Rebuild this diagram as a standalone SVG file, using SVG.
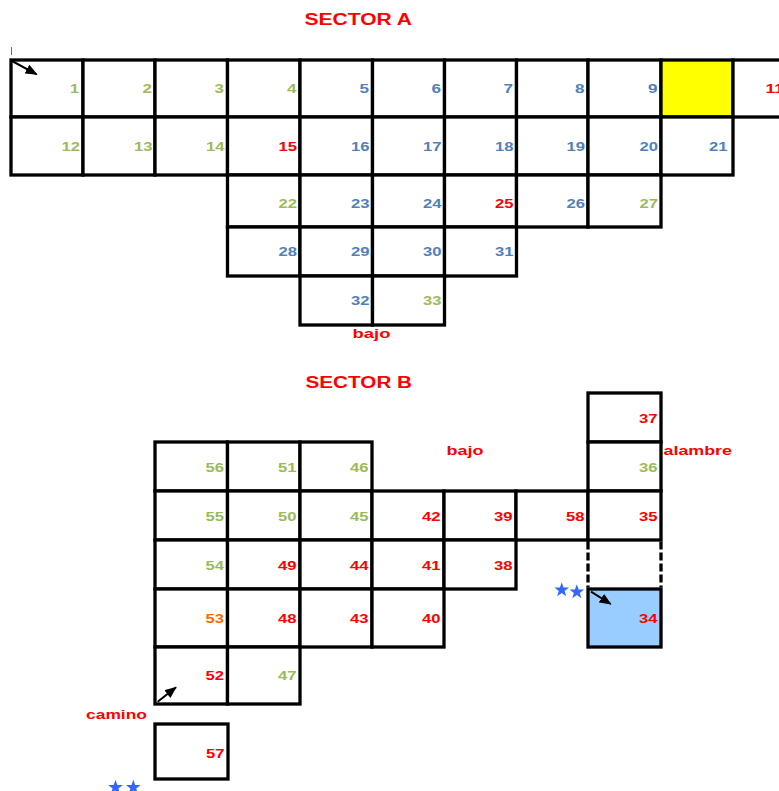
<svg xmlns="http://www.w3.org/2000/svg" width="779" height="791" viewBox="0 0 779 791">
<style>
.c{fill:#fff;stroke:#000;stroke-width:3.3}
.n{font-family:"Liberation Sans",Arial,sans-serif;font-weight:bold;font-size:12.8px;text-anchor:end}
.t{font-family:"Liberation Sans",Arial,sans-serif;font-weight:bold;font-size:16.8px;fill:#f00}
.l{font-family:"Liberation Sans",Arial,sans-serif;font-weight:bold;font-size:12.8px;fill:#f00}
.g{fill:#9bbb59}.b{fill:#4f81bd}.r{fill:#f00}.o{fill:#ff6a00}
.a{stroke:#000;stroke-width:2;fill:none}
.d{stroke:#000;stroke-width:3.3;stroke-dasharray:8 3;fill:none}
.s{fill:#3366ff}
</style>
<defs>
<marker id="ah" markerWidth="12" markerHeight="10" refX="11" refY="5" orient="auto" markerUnits="userSpaceOnUse"><path d="M0,0 L12,5 L0,10 Z" fill="#000"/></marker>
<path id="star" d="M0,-7.7 L1.81,-2.49 L7.32,-2.38 L2.93,0.95 L4.53,6.23 L0,3.08 L-4.53,6.23 L-2.93,0.95 L-7.32,-2.38 L-1.81,-2.49 Z"/>
</defs>
<rect width="779" height="791" fill="#fff"/>
<text class="t" x="304.5" y="25" textLength="107.5" lengthAdjust="spacingAndGlyphs">SECTOR A</text>
<line x1="11.5" y1="47" x2="11.5" y2="55" stroke="#3b6fe0" stroke-width="1"/>
<!-- Sector A row 1 -->
<g id="n1"><rect class="c" x="11" y="60" width="72" height="57"/><text class="n g" x="79" y="93" textLength="9" lengthAdjust="spacingAndGlyphs">1</text></g>
<g id="n2"><rect class="c" x="83" y="60" width="72" height="57"/><text class="n g" x="152" y="93" textLength="9.5" lengthAdjust="spacingAndGlyphs">2</text></g>
<g id="n3"><rect class="c" x="155" y="60" width="72.5" height="57"/><text class="n g" x="224" y="93" textLength="9.5" lengthAdjust="spacingAndGlyphs">3</text></g>
<g id="n4"><rect class="c" x="227.5" y="60" width="72.5" height="57"/><text class="n g" x="296.5" y="93" textLength="9.5" lengthAdjust="spacingAndGlyphs">4</text></g>
<g id="n5"><rect class="c" x="300" y="60" width="72.5" height="57"/><text class="n b" x="369" y="93" textLength="9.5" lengthAdjust="spacingAndGlyphs">5</text></g>
<g id="n6"><rect class="c" x="372.5" y="60" width="72" height="57"/><text class="n b" x="441" y="93" textLength="9.5" lengthAdjust="spacingAndGlyphs">6</text></g>
<g id="n7"><rect class="c" x="444.5" y="60" width="72" height="57"/><text class="n b" x="513" y="93" textLength="9.5" lengthAdjust="spacingAndGlyphs">7</text></g>
<g id="n8"><rect class="c" x="516.5" y="60" width="71.5" height="57"/><text class="n b" x="584.5" y="93" textLength="9.5" lengthAdjust="spacingAndGlyphs">8</text></g>
<g id="n9"><rect class="c" x="588" y="60" width="73" height="57"/><text class="n b" x="657.5" y="93" textLength="9.5" lengthAdjust="spacingAndGlyphs">9</text></g>
<g id="n10"><rect class="c" x="661" y="60" width="72" height="57" style="fill:#ff0"/></g>
<g id="n11"><rect class="c" x="733" y="60" width="72" height="57"/><text class="n r" x="765.5" y="93" style="text-anchor:start" textLength="18.5" lengthAdjust="spacingAndGlyphs">11</text></g>
<!-- row 2 -->
<g id="n12"><rect class="c" x="11" y="117" width="72" height="58"/><text class="n g" x="80" y="151" textLength="18.5" lengthAdjust="spacingAndGlyphs">12</text></g>
<g id="n13"><rect class="c" x="83" y="117" width="72" height="58"/><text class="n g" x="152.5" y="151" textLength="18.5" lengthAdjust="spacingAndGlyphs">13</text></g>
<g id="n14"><rect class="c" x="155" y="117" width="72.5" height="58"/><text class="n g" x="224.5" y="151" textLength="18.5" lengthAdjust="spacingAndGlyphs">14</text></g>
<g id="n15"><rect class="c" x="227.5" y="117" width="72.5" height="58"/><text class="n r" x="297" y="151" textLength="18.5" lengthAdjust="spacingAndGlyphs">15</text></g>
<g id="n16"><rect class="c" x="300" y="117" width="72.5" height="58"/><text class="n b" x="369.5" y="151" textLength="18.5" lengthAdjust="spacingAndGlyphs">16</text></g>
<g id="n17"><rect class="c" x="372.5" y="117" width="72" height="58"/><text class="n b" x="441.5" y="151" textLength="18.5" lengthAdjust="spacingAndGlyphs">17</text></g>
<g id="n18"><rect class="c" x="444.5" y="117" width="72" height="58"/><text class="n b" x="513.5" y="151" textLength="18.5" lengthAdjust="spacingAndGlyphs">18</text></g>
<g id="n19"><rect class="c" x="516.5" y="117" width="71.5" height="58"/><text class="n b" x="585" y="151" textLength="18.5" lengthAdjust="spacingAndGlyphs">19</text></g>
<g id="n20"><rect class="c" x="588" y="117" width="73" height="58"/><text class="n b" x="658" y="151" textLength="18.5" lengthAdjust="spacingAndGlyphs">20</text></g>
<g id="n21"><rect class="c" x="661" y="117" width="72" height="58"/><text class="n b" x="727.5" y="151" textLength="18.5" lengthAdjust="spacingAndGlyphs">21</text></g>
<!-- row 3 -->
<g id="n22"><rect class="c" x="227.5" y="175" width="72.5" height="52"/><text class="n g" x="297" y="207.5" textLength="18.5" lengthAdjust="spacingAndGlyphs">22</text></g>
<g id="n23"><rect class="c" x="300" y="175" width="72.5" height="52"/><text class="n b" x="369.5" y="207.5" textLength="18.5" lengthAdjust="spacingAndGlyphs">23</text></g>
<g id="n24"><rect class="c" x="372.5" y="175" width="72" height="52"/><text class="n b" x="441.5" y="207.5" textLength="18.5" lengthAdjust="spacingAndGlyphs">24</text></g>
<g id="n25"><rect class="c" x="444.5" y="175" width="72" height="52"/><text class="n r" x="513.5" y="207.5" textLength="18.5" lengthAdjust="spacingAndGlyphs">25</text></g>
<g id="n26"><rect class="c" x="516.5" y="175" width="71.5" height="52"/><text class="n b" x="585" y="207.5" textLength="18.5" lengthAdjust="spacingAndGlyphs">26</text></g>
<g id="n27"><rect class="c" x="588" y="175" width="73" height="52"/><text class="n g" x="658" y="207.5" textLength="18.5" lengthAdjust="spacingAndGlyphs">27</text></g>
<!-- row 4 -->
<g id="n28"><rect class="c" x="227.5" y="227" width="72.5" height="49"/><text class="n b" x="297" y="256" textLength="18.5" lengthAdjust="spacingAndGlyphs">28</text></g>
<g id="n29"><rect class="c" x="300" y="227" width="72.5" height="49"/><text class="n b" x="369.5" y="256" textLength="18.5" lengthAdjust="spacingAndGlyphs">29</text></g>
<g id="n30"><rect class="c" x="372.5" y="227" width="72" height="49"/><text class="n b" x="441.5" y="256" textLength="18.5" lengthAdjust="spacingAndGlyphs">30</text></g>
<g id="n31"><rect class="c" x="444.5" y="227" width="72" height="49"/><text class="n b" x="513.5" y="256" textLength="18.5" lengthAdjust="spacingAndGlyphs">31</text></g>
<!-- row 5 -->
<g id="n32"><rect class="c" x="300" y="276" width="72.5" height="49"/><text class="n b" x="369.5" y="305" textLength="18.5" lengthAdjust="spacingAndGlyphs">32</text></g>
<g id="n33"><rect class="c" x="372.5" y="276" width="72" height="49"/><text class="n g" x="441.5" y="305" textLength="18.5" lengthAdjust="spacingAndGlyphs">33</text></g>
<text class="l" x="352.5" y="337.5" textLength="38" lengthAdjust="spacingAndGlyphs">bajo</text>

<text class="t" x="305.5" y="388" textLength="106.5" lengthAdjust="spacingAndGlyphs">SECTOR B</text>
<g id="n37"><rect class="c" x="588" y="393" width="73" height="49"/><text class="n r" x="657.5" y="422.7" textLength="18.5" lengthAdjust="spacingAndGlyphs">37</text></g>
<g id="n36"><rect class="c" x="588" y="442" width="73" height="49"/><text class="n g" x="657.5" y="472" textLength="18.5" lengthAdjust="spacingAndGlyphs">36</text></g>
<g id="n56"><rect class="c" x="155" y="442" width="72.5" height="49"/><text class="n g" x="224" y="472" textLength="18.5" lengthAdjust="spacingAndGlyphs">56</text></g>
<g id="n51"><rect class="c" x="227.5" y="442" width="72.5" height="49"/><text class="n g" x="296.5" y="472" textLength="18.5" lengthAdjust="spacingAndGlyphs">51</text></g>
<g id="n46"><rect class="c" x="300" y="442" width="72" height="49"/><text class="n g" x="368.5" y="472" textLength="18.5" lengthAdjust="spacingAndGlyphs">46</text></g>
<g id="n55"><rect class="c" x="155" y="491" width="72.5" height="49"/><text class="n g" x="224" y="520.7" textLength="18.5" lengthAdjust="spacingAndGlyphs">55</text></g>
<g id="n50"><rect class="c" x="227.5" y="491" width="72.5" height="49"/><text class="n g" x="296.5" y="520.7" textLength="18.5" lengthAdjust="spacingAndGlyphs">50</text></g>
<g id="n45"><rect class="c" x="300" y="491" width="72" height="49"/><text class="n g" x="368.5" y="520.7" textLength="18.5" lengthAdjust="spacingAndGlyphs">45</text></g>
<g id="n42"><rect class="c" x="372" y="491" width="72" height="49"/><text class="n r" x="440.5" y="520.7" textLength="18.5" lengthAdjust="spacingAndGlyphs">42</text></g>
<g id="n39"><rect class="c" x="444" y="491" width="72" height="49"/><text class="n r" x="512.5" y="520.7" textLength="18.5" lengthAdjust="spacingAndGlyphs">39</text></g>
<g id="n58"><rect class="c" x="516" y="491" width="72" height="49"/><text class="n r" x="584.5" y="520.7" textLength="18.5" lengthAdjust="spacingAndGlyphs">58</text></g>
<g id="n35"><rect class="c" x="588" y="491" width="73" height="49"/><text class="n r" x="657.5" y="520.7" textLength="18.5" lengthAdjust="spacingAndGlyphs">35</text></g>
<g id="n54"><rect class="c" x="155" y="540" width="72.5" height="49"/><text class="n g" x="224" y="569.5" textLength="18.5" lengthAdjust="spacingAndGlyphs">54</text></g>
<g id="n49"><rect class="c" x="227.5" y="540" width="72.5" height="49"/><text class="n r" x="296.5" y="569.5" textLength="18.5" lengthAdjust="spacingAndGlyphs">49</text></g>
<g id="n44"><rect class="c" x="300" y="540" width="72" height="49"/><text class="n r" x="368.5" y="569.5" textLength="18.5" lengthAdjust="spacingAndGlyphs">44</text></g>
<g id="n41"><rect class="c" x="372" y="540" width="72" height="49"/><text class="n r" x="440.5" y="569.5" textLength="18.5" lengthAdjust="spacingAndGlyphs">41</text></g>
<g id="n38"><rect class="c" x="444" y="540" width="72" height="49"/><text class="n r" x="512.5" y="569.5" textLength="18.5" lengthAdjust="spacingAndGlyphs">38</text></g>
<g id="n53"><rect class="c" x="155" y="589" width="72.5" height="58"/><text class="n o" x="224" y="623" textLength="18.5" lengthAdjust="spacingAndGlyphs">53</text></g>
<g id="n48"><rect class="c" x="227.5" y="589" width="72.5" height="58"/><text class="n r" x="296.5" y="623" textLength="18.5" lengthAdjust="spacingAndGlyphs">48</text></g>
<g id="n43"><rect class="c" x="300" y="589" width="72" height="58"/><text class="n r" x="368.5" y="623" textLength="18.5" lengthAdjust="spacingAndGlyphs">43</text></g>
<g id="n40"><rect class="c" x="372" y="589" width="72" height="58"/><text class="n r" x="440.5" y="623" textLength="18.5" lengthAdjust="spacingAndGlyphs">40</text></g>
<g id="n34"><rect class="c" x="588" y="589" width="73" height="58" style="fill:#99ccff"/><text class="n r" x="657.5" y="623" textLength="18.5" lengthAdjust="spacingAndGlyphs">34</text></g>
<g id="n52"><rect class="c" x="155" y="647" width="72.5" height="57"/><text class="n r" x="224" y="680" textLength="18.5" lengthAdjust="spacingAndGlyphs">52</text></g>
<g id="n47"><rect class="c" x="227.5" y="647" width="72.5" height="57"/><text class="n g" x="296.5" y="680" textLength="18.5" lengthAdjust="spacingAndGlyphs">47</text></g>
<g id="n57"><rect class="c" x="155" y="724" width="73" height="55"/><text class="n r" x="224.5" y="758.3" textLength="18.5" lengthAdjust="spacingAndGlyphs">57</text></g>
<g id="gap"><line class="d" x1="588" y1="541.5" x2="588" y2="587.5"/><line class="d" x1="661" y1="541.5" x2="661" y2="587.5"/></g>
<text class="l" x="446.5" y="455" textLength="37" lengthAdjust="spacingAndGlyphs">bajo</text>
<text class="l" x="663.5" y="455" textLength="68.5" lengthAdjust="spacingAndGlyphs">alambre</text>
<text class="l" x="86" y="718.5" textLength="61" lengthAdjust="spacingAndGlyphs">camino</text>
<g id="stars">
<use href="#star" class="s" x="561.7" y="590"/>
<use href="#star" class="s" x="576.8" y="592"/>
<use href="#star" class="s" x="115.5" y="787.5"/>
<use href="#star" class="s" x="133.3" y="787.5"/>
</g>
<g id="connectors">
<line class="a" x1="12" y1="61" x2="36.7" y2="74.3" marker-end="url(#ah)"/>
<line class="a" x1="591" y1="591.7" x2="610.7" y2="604" marker-end="url(#ah)"/>
<line class="a" x1="157.7" y1="701.7" x2="176" y2="687.3" marker-end="url(#ah)"/>
</g>
</svg>
